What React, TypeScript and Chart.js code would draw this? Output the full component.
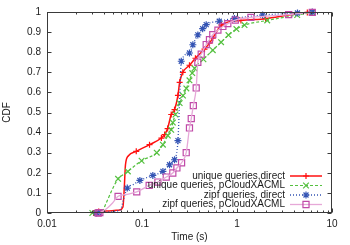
import React, { useEffect, useRef } from 'react';
import { Chart, registerables } from 'chart.js';

Chart.register(...registerables);

// ---------- data ----------
const seriesLabels = [
  'unique queries,direct',
  'unique queries, pCloudXACML',
  'zipf queries, direct',
  'zipf queries, pCloudXACML',
];

const xTickValues = [0.01, 0.1, 1, 10];
const xTickLabels = ['0.01', '0.1', '1', '10'];
const xTitle = 'Time (s)';
const yTitle = 'CDF';

// unique queries, direct (red)
const redMarkX = [0.031, 0.033, 0.035, 0.087, 0.12, 0.16, 0.173, 0.186, 0.203, 0.22, 0.239, 0.249, 0.269, 0.316, 0.365, 0.455, 0.513, 0.556, 0.685, 1.1, 2.0, 5.5];
const redMarkY = [0.0, 0.004, 0.008, 0.307, 0.34, 0.373, 0.39, 0.42, 0.49, 0.514, 0.585, 0.65, 0.70, 0.735, 0.77, 0.815, 0.845, 0.87, 0.935, 0.958, 0.967, 0.998];
const redBridgeX = [0.045, 0.058, 0.063, 0.065, 0.067, 0.072, 3.5];
const redBridgeY = [0.01, 0.015, 0.03, 0.12, 0.24, 0.285, 0.985];

// unique queries, pCloudXACML (green)
const greenMarkX = [0.030, 0.056, 0.071, 0.099, 0.143, 0.166, 0.187, 0.203, 0.211, 0.225, 0.249, 0.27, 0.293, 0.316, 0.338, 0.357, 0.443, 0.556, 0.68, 0.813, 0.986, 1.2, 2.08, 4.3, 6.2];
const greenMarkY = [0.0, 0.17, 0.207, 0.26, 0.30, 0.34, 0.385, 0.414, 0.45, 0.49, 0.547, 0.584, 0.62, 0.66, 0.696, 0.72, 0.765, 0.81, 0.85, 0.885, 0.915, 0.935, 0.958, 0.985, 0.998];
const greenBridgeX = [0.033, 0.038, 0.042, 0.049, 0.063, 0.084];
const greenBridgeY = [0.0, 0.008, 0.05, 0.12, 0.19, 0.235];

// zipf queries, direct (blue)
const blueMarkX = [0.033, 0.035, 0.070, 0.095, 0.13, 0.166, 0.195, 0.22, 0.239, 0.259, 0.316, 0.343, 0.387, 0.435, 0.474, 0.65, 0.94, 1.86, 4.33, 6.2];
const blueMarkY = [0.0, 0.002, 0.124, 0.162, 0.187, 0.207, 0.24, 0.265, 0.36, 0.755, 0.796, 0.837, 0.886, 0.917, 0.937, 0.954, 0.968, 0.985, 0.995, 1.0];
const blueBridgeX = [0.040, 0.055, 0.060, 0.064, 0.080, 0.246, 0.253];
const blueBridgeY = [0.004, 0.01, 0.02, 0.07, 0.14, 0.5, 0.65];

// zipf queries, pCloudXACML (magenta)
const magMarkX = [0.0346, 0.036, 0.056, 0.088, 0.119, 0.147, 0.18, 0.211, 0.233, 0.261, 0.292, 0.316, 0.33, 0.347, 0.372, 0.387, 0.42, 0.474, 0.513, 0.556, 0.63, 0.71, 0.80, 0.96, 1.40, 3.5, 6.2];
const magMarkY = [0.0, 0.002, 0.083, 0.105, 0.137, 0.154, 0.179, 0.199, 0.224, 0.25, 0.30, 0.423, 0.47, 0.534, 0.622, 0.75, 0.79, 0.838, 0.862, 0.887, 0.91, 0.928, 0.942, 0.96, 0.973, 0.987, 0.998];
const magBridgeX = [0.042, 0.049, 0.068];
const magBridgeY = [0.02, 0.05, 0.092];

// ---------- styles ----------
const seriesStyle = [
  { line: '#ff1010', mark: '#ff1010', width: 1.5, dash: [] as number[], point: 'cross', radius: 3 },
  { line: '#55c040', mark: '#55c040', width: 1.2, dash: [3, 2], point: 'crossRot', radius: 4 },
  { line: '#3454b4', mark: '#3454b4', width: 1.3, dash: [1, 2], point: 'star', radius: 3.5 },
  { line: '#e6a8d8', mark: '#c04aa8', width: 1.3, dash: [] as number[], point: 'rect', radius: 4.3 },
];

const FONT = '"Liberation Sans", Arial, Helvetica, sans-serif';

function pts(xs: number[], ys: number[]) {
  return xs.map((x, i) => ({ x, y: ys[i] }));
}
function curve(mx: number[], my: number[], bx: number[], by: number[]) {
  const p = pts(mx, my).concat(pts(bx, by));
  p.sort((a, b) => a.x - b.x);
  return p;
}

const allMarks = [
  pts(redMarkX, redMarkY),
  pts(greenMarkX, greenMarkY),
  pts(blueMarkX, blueMarkY),
  pts(magMarkX, magMarkY),
];
const allCurves = [
  curve(redMarkX, redMarkY, redBridgeX, redBridgeY),
  curve(greenMarkX, greenMarkY, greenBridgeX, greenBridgeY),
  curve(blueMarkX, blueMarkY, blueBridgeX, blueBridgeY),
  curve(magMarkX, magMarkY, magBridgeX, magBridgeY),
];

function drawMarker(ctx: CanvasRenderingContext2D, style: string, x: number, y: number, r: number) {
  const d = r * Math.SQRT1_2;
  ctx.beginPath();
  if (style === 'cross' || style === 'star') {
    ctx.moveTo(x - r, y); ctx.lineTo(x + r, y);
    ctx.moveTo(x, y - r); ctx.lineTo(x, y + r);
  }
  if (style === 'crossRot' || style === 'star') {
    const k = style === 'star' ? r * Math.SQRT1_2 : d;
    ctx.moveTo(x - k, y - k); ctx.lineTo(x + k, y + k);
    ctx.moveTo(x - k, y + k); ctx.lineTo(x + k, y - k);
  }
  if (style === 'rect') {
    ctx.rect(x - d, y - d, 2 * d, 2 * d);
  }
  ctx.stroke();
}

const frameAndTicks = {
  id: 'frameAndTicks',
  afterDatasetsDraw(chart: any) {
    const { ctx, chartArea } = chart;
    const xs = chart.scales.x;
    const ys = chart.scales.y;
    const L = Math.round(chartArea.left) + 0.5;
    const R = Math.round(chartArea.right) - 0.5;
    const T = Math.round(chartArea.top) + 0.5;
    const B = Math.round(chartArea.bottom) - 0.5;
    ctx.save();
    ctx.strokeStyle = '#3a3a3a';
    ctx.lineWidth = 1;
    ctx.setLineDash([]);
    ctx.beginPath();
    xs.ticks.forEach((t: any) => {
      const v = t.value;
      const lg = Math.log10(v);
      const major = Math.abs(lg - Math.round(lg)) < 1e-6;
      const len = major ? 4 : 2;
      const px = Math.round(xs.getPixelForValue(v)) + 0.5;
      ctx.moveTo(px, B); ctx.lineTo(px, B - len);
      ctx.moveTo(px, T); ctx.lineTo(px, T + len);
    });
    ys.ticks.forEach((t: any) => {
      const py = Math.round(ys.getPixelForValue(t.value)) + 0.5;
      ctx.moveTo(L, py); ctx.lineTo(L + 4, py);
      ctx.moveTo(R, py); ctx.lineTo(R - 4, py);
    });
    ctx.stroke();
    ctx.strokeRect(L, T, R - L, B - T);

    // legend (inside, bottom right)
    ctx.font = `10px ${FONT}`;
    ctx.fillStyle = '#1a1a1a';
    ctx.textAlign = 'right';
    ctx.textBaseline = 'middle';
    const textRight = chartArea.right - 47;
    const x0 = chartArea.right - 42;
    const x1 = chartArea.right - 10;
    const rowBottom = chartArea.bottom - 8.5;
    const step = 9.5;
    seriesLabels.forEach((label, i) => {
      const y = rowBottom - (seriesLabels.length - 1 - i) * step;
      ctx.fillText(label, textRight, y);
      const s = seriesStyle[i];
      ctx.strokeStyle = s.line;
      ctx.lineWidth = s.width;
      ctx.setLineDash(s.dash);
      ctx.beginPath();
      ctx.moveTo(x0, y); ctx.lineTo(x1, y);
      ctx.stroke();
      ctx.setLineDash([]);
      ctx.strokeStyle = s.mark;
      ctx.lineWidth = 1.2;
      drawMarker(ctx, s.point, (x0 + x1) / 2, y, s.radius);
    });
    ctx.restore();
  },
};

export default function App() {
  const ref = useRef<HTMLCanvasElement>(null);
  useEffect(() => {
    const datasets: any[] = [];
    seriesLabels.forEach((label, i) => {
      const s = seriesStyle[i];
      datasets.push({
        label,
        data: allCurves[i],
        showLine: true,
        borderColor: s.line,
        borderWidth: s.width,
        borderDash: s.dash,
        pointRadius: 0,
        pointHoverRadius: 0,
        cubicInterpolationMode: 'monotone',
        order: 4 - i,
        clip: false,
      });
      datasets.push({
        label: label + ' markers',
        data: allMarks[i],
        showLine: false,
        pointStyle: s.point,
        pointRadius: s.radius,
        pointBorderColor: s.mark,
        pointBackgroundColor: 'rgba(0,0,0,0)',
        pointBorderWidth: 1.2,
        order: 4 - i,
        clip: false,
      });
    });
    const chart = new Chart(ref.current!, {
      type: 'scatter',
      data: { datasets },
      options: {
        animation: false,
        responsive: false,
        devicePixelRatio: 1,
        layout: { padding: { left: 0, right: 18, top: 12, bottom: 0 } },
        plugins: { legend: { display: false }, tooltip: { enabled: false } },
        scales: {
          x: {
            type: 'logarithmic',
            min: 0.01,
            max: 10,
            grid: { display: false, drawTicks: false },
            border: { display: false },
            ticks: {
              autoSkip: false,
              maxRotation: 0,
              padding: 5,
              color: '#1a1a1a',
              font: { family: FONT, size: 10 },
              callback: (v: any) => {
                const idx = xTickValues.findIndex((t) => Math.abs(v - t) / t < 1e-6);
                return idx >= 0 ? xTickLabels[idx] : '';
              },
            },
            title: {
              display: true,
              text: xTitle,
              color: '#1a1a1a',
              font: { family: FONT, size: 10 },
              padding: { top: 0, bottom: 2 },
            },
            afterFit: (scale: any) => { scale.height = 32; },
          },
          y: {
            type: 'linear',
            min: 0,
            max: 1,
            grid: { display: false, drawTicks: false },
            border: { display: false },
            ticks: {
              stepSize: 0.1,
              padding: 6,
              color: '#1a1a1a',
              font: { family: FONT, size: 10 },
              callback: (v: any) => String(Number(Number(v).toFixed(1))),
            },
            title: {
              display: true,
              text: yTitle,
              color: '#1a1a1a',
              font: { family: FONT, size: 10 },
              padding: { top: 1, bottom: 0 },
            },
            afterFit: (scale: any) => { scale.width = 47; },
          },
        },
      } as any,
      plugins: [frameAndTicks],
    });
    return () => chart.destroy();
  }, []);
  return (
    <div style={{ position: 'fixed', left: 0, top: 0, width: 350, height: 245, background: '#fff' }}>
      <canvas ref={ref} width={350} height={245} />
    </div>
  );
}
